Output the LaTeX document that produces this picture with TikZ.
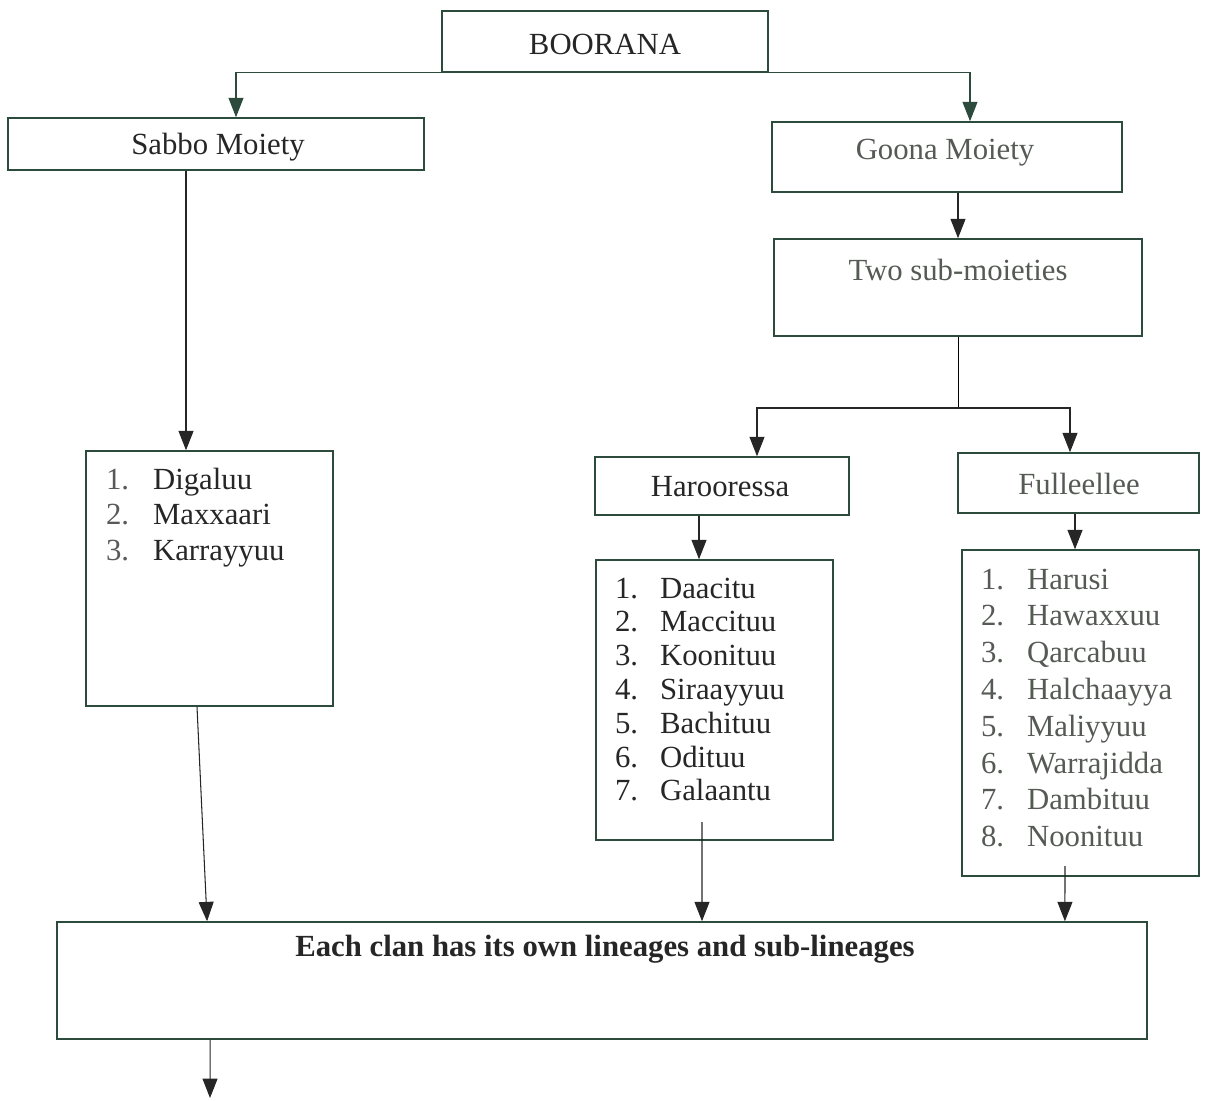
\documentclass[tikz,border=0pt]{standalone}
\usepackage{fontspec}
\setmainfont{Liberation Serif}
\usetikzlibrary{arrows.meta}
\definecolor{boxline}{RGB}{45,75,60}
\definecolor{greytext}{RGB}{85,90,85}
\begin{document}
\begin{tikzpicture}[x=0.02cm,y=-0.02cm,
	box/.style={draw=boxline,line width=0.9pt,rectangle,inner sep=0pt},
	txt/.style={font=\fontsize{17.5}{20}\selectfont,text=black!85,inner sep=1pt},
	item/.style={txt,anchor=base west},
	arr/.style={-{Triangle[length=11pt,width=8.5pt]},black!85,line width=0.6pt}]
	\useasboundingbox (0,0) rectangle (1209,1100);
	
	%top
	\node[box,minimum width=6.52cm,minimum height=1.22cm] (boorana) at (605,41.5){};
	\node[txt] (booranatxt) at (605,44){BOORANA};
	
	%moieties
	\node[box,minimum width=8.32cm,minimum height=1.04cm] (sabbo) at (216,144){};
	\node[txt] (sabbotxt) at (218,147){Sabbo Moiety};
	\node[box,minimum width=7cm,minimum height=1.4cm] (goona) at (947,157){};
	\node[txt,text=greytext] (goonatxt) at (945,153){Goona Moiety};
	\node[box,minimum width=7.36cm,minimum height=1.94cm] (twosub) at (958,287.5){};
	\node[txt,text=greytext] (twosubtxt) at (958,270){Two sub-moieties};
	
	%sub-moieties
	\node[box,minimum width=5.08cm,minimum height=1.16cm] (haro) at (722,486){};
	\node[txt] (harotxt) at (720,487){Harooressa};
	\node[box,minimum width=4.82cm,minimum height=1.2cm] (fulle) at (1078.5,483){};
	\node[txt,text=greytext] (fulletxt) at (1079,484){Fulleellee};
	
	%clan lists
	\node[box,minimum width=4.94cm,minimum height=5.1cm] (sabbolist) at (209.5,578.5){};
	\foreach \nm [count=\i] in {Digaluu,Maxxaari,Karrayyuu}{
		\node[item,text=black!65] (sn\i) at (104,{489+35.5*(\i-1)}){\i.};
		\node[item] (sc\i) at (151,{489+35.5*(\i-1)}){\nm};
	}
	\node[box,minimum width=4.74cm,minimum height=5.6cm] (harolist) at (714.5,700){};
	\foreach \nm [count=\i] in {Daacitu,Maccituu,Koonituu,Siraayyuu,Bachituu,Odituu,Galaantu}{
		\node[item] (hn\i) at (613,{598+33.8*(\i-1)}){\i.};
		\node[item] (hc\i) at (658,{598+33.8*(\i-1)}){\nm};
	}
	\node[box,minimum width=4.74cm,minimum height=6.52cm] (fullelist) at (1080.5,713){};
	\foreach \nm [count=\i] in {Harusi,Hawaxxuu,Qarcabuu,Halchaayya,Maliyyuu,Warrajidda,Dambituu,Noonituu}{
		\node[item,text=greytext] (fn\i) at (979,{589+36.8*(\i-1)}){\i.};
		\node[item,text=greytext] (fc\i) at (1025,{589+36.8*(\i-1)}){\nm};
	}
	
	%bottom
	\node[box,minimum width=21.8cm,minimum height=2.34cm] (clan) at (602,980.5){};
	\node[txt,font=\fontsize{17.5}{20}\selectfont\bfseries] (clantxt) at (605,949){Each clan has its own lineages and sub-lineages};
	
	%connectors
	\draw[arr,draw=boxline] (boorana.south west) -| ([xshift=0.4cm]sabbo.north);
	\draw[arr,draw=boxline] (boorana.south east) -| ([xshift=0.46cm]goona.north);
	\draw[arr] ([xshift=-0.6cm]sabbo.south) -- ([xshift=-0.6cm]sabbo.south |- sabbolist.north);
	\draw[arr] (goona.south -| twosub.north) -- (twosub.north);
	\coordinate (split) at (958,408);
	\draw (twosub.south) -- (split);
	\draw[arr] (split) -| ([xshift=0.7cm]haro.north);
	\draw[arr] (split) -| ([xshift=-0.17cm]fulle.north);
	\draw[arr] ([xshift=-0.46cm]haro.south) -- ([xshift=-0.46cm]haro.south |- harolist.north);
	\draw[arr] ([xshift=-0.07cm]fulle.south) -- ([xshift=-0.07cm]fulle.south |- fullelist.north);
	\draw[arr] ([xshift=-0.25cm]sabbolist.south) -- ([xshift=-7.9cm]clan.north);
	\coordinate (hstart) at (702,822);
	\draw[arr] (hstart) -- ([xshift=2cm]clan.north);
	\coordinate (fstart) at (1065,866);
	\draw[arr] (fstart) -- ([xshift=9.26cm]clan.north);
	\coordinate (out) at (210,1098);
	\draw[arr] ([xshift=-7.84cm]clan.south) -- (out);
\end{tikzpicture}
\end{document}
